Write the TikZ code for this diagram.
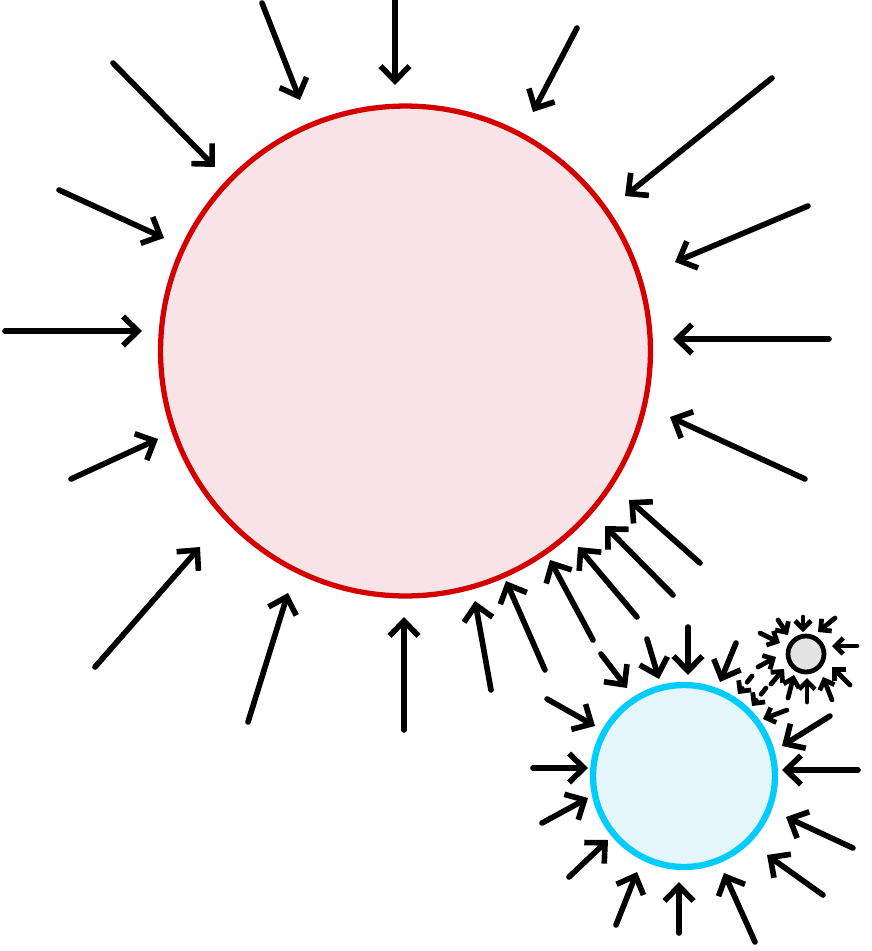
\documentclass[tikz,border=0pt]{standalone}
\usetikzlibrary{arrows.meta}
\definecolor{sunred}{HTML}{D40000}
\definecolor{sunfill}{HTML}{F8E4E6}
\definecolor{blueline}{HTML}{00CCFF}
\definecolor{bluefill}{HTML}{E5F7FC}
\definecolor{grayfill}{HTML}{E3E3E3}
\tikzset{
  ray/.style={line width=3.2pt, line cap=round, line join=round, -{Straight Barb[length=8.5pt,width=16.5pt]}},
  smallray/.style={line width=2.7pt, line cap=round, line join=round, -{Straight Barb[length=4.5pt,width=9pt]}},
  dashray/.style={smallray, dash pattern=on 4.5pt off 4.5pt},
  body/.style={circle, inner sep=0pt},
}
\begin{document}
\begin{tikzpicture}[x=0.02cm,y=-0.02cm]
\useasboundingbox (0,0) rectangle (872,951);
\node[body, draw=sunred, fill=sunfill, line width=3pt, minimum size=9.8cm] (sun) at (405.5,351) {};
\node[body, draw=blueline, fill=bluefill, line width=3.6pt, minimum size=3.64cm] (planet) at (684,776) {};
\node[body, draw=black, fill=grayfill, line width=2.7pt, minimum size=0.72cm] (moon) at (806,654) {};
% rays onto the big circle
\foreach \n/\ax/\ay/\bx/\by in {
  1/262/3/300/100, 2/395/0/395/85, 3/113/63/215/167, 4/59/190/164/238,
  5/577/28/533/112, 6/772/78/625/196, 7/808/206/675/262, 8/829/339/673/339,
  9/805/479/670/417, 10/5/331/142/331, 11/71/479/158/439, 12/95/667/200/547,
  13/248/722/288/593, 14/404/730/404/617, 15/491/690/475/601, 16/545/670/506/581,
  17/593/640/550/560, 18/637/617/578/547, 19/673/595/605/526, 20/700/563/629/500}
{
  \coordinate (s\n) at (\ax,\ay);
  \coordinate (t\n) at (\bx,\by);
  \draw[ray] (s\n) -- (t\n);
}
% rays onto the blue circle
\foreach \n/\ax/\ay/\bx/\by in {
  21/601/654/627/688, 22/647/639/659/679, 23/688/627/688/675, 24/736/643/720/682,
  25/830/716/782/746, 26/858/770/782/770, 27/853/848/786/817, 28/823/895/767/855,
  29/755/942/724/873, 30/679/933/679/882, 31/616/925/637/872, 32/569/877/608/840,
  33/542/823/588/798, 34/533/768/588/768, 35/547/699/595/726}
{
  \coordinate (s\n) at (\ax,\ay);
  \coordinate (t\n) at (\bx,\by);
  \draw[ray] (s\n) -- (t\n);
}
% dashed rays from the small circle
\foreach \n/\ax/\ay/\bx/\by in {36/752/676/738/694, 37/766/688/752/706}
{
  \coordinate (s\n) at (\ax,\ay);
  \coordinate (t\n) at (\bx,\by);
  \draw[dashray] (s\n) -- (t\n);
}
\coordinate (s38) at (787,710);
\coordinate (t38) at (763,719);
\draw[smallray] (s38) -- (t38);
% rays onto the small circle
\foreach \n/\ax/\ay/\bx/\by in {
  a/760/633/780/643, b/778/620/788/635, c/803/617/803/632, d/835/618/818/632,
  e/857/646/832/646, f/850/685/832/667, g/832/700/823/677, h/807/702/807/678,
  i/788/698/794/675, j/758/667/776/657, k/771/684/784/669}
{
  \coordinate (s\n) at (\ax,\ay);
  \coordinate (t\n) at (\bx,\by);
  \draw[smallray] (s\n) -- (t\n);
}
\end{tikzpicture}
\end{document}
